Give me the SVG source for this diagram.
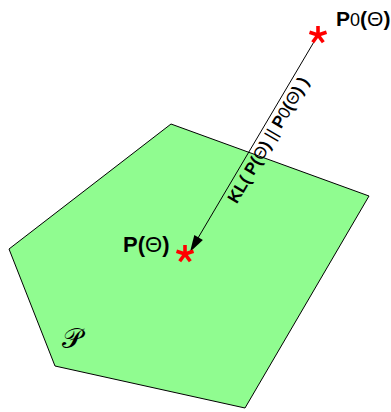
<svg xmlns="http://www.w3.org/2000/svg" width="391" height="412" viewBox="0 0 391 412">
<style>
.lbl{font-family:"Liberation Sans",Arial,sans-serif;font-weight:bold;fill:#000}
.n{font-weight:normal}
.star{stroke:#ff0000;stroke-width:3.6;stroke-linecap:butt;fill:none}
</style>
<defs>
<g id="ast">
<line x1="0" y1="0" x2="0" y2="-9"/>
<line x1="0" y1="0" x2="8.5" y2="-2.8"/>
<line x1="0" y1="0" x2="-8.5" y2="-2.8"/>
<line x1="0" y1="0" x2="5.3" y2="7.3"/>
<line x1="0" y1="0" x2="-5.3" y2="7.3"/>
</g>
</defs>
<g id="region">
<polygon points="171,124 369,196 245,408 55,366 9,249" fill="#90fc90" stroke="#000" stroke-width="1"/>
<text x="62" y="348" font-family="'DejaVu Serif',serif" font-size="28">𝒫</text>
</g>
<g id="connectors">
<line x1="318" y1="35" x2="198" y2="238" stroke="#000" stroke-width="1"/>
<polygon points="190,252 202.9,239.9 194.3,234.9" fill="#000"/>
<text class="lbl" font-size="17" text-anchor="middle" transform="translate(273,143) rotate(-59.5)">KL( P(<tspan class="n">Θ</tspan>) <tspan class="n">||</tspan> P<tspan class="n">0</tspan>(<tspan class="n">Θ</tspan>) )</text>
</g>
<g id="p0">
<g class="star" transform="translate(318,35)"><use href="#ast"/></g>
<text class="lbl" x="336" y="26" font-size="21">P<tspan class="n" font-size="18">0</tspan>(<tspan class="n">Θ</tspan>)</text>
</g>
<g id="p">
<g class="star" transform="translate(185,254)"><use href="#ast"/></g>
<text class="lbl" x="123" y="252" font-size="22">P(<tspan class="n">Θ</tspan>)</text>
</g>
</svg>
